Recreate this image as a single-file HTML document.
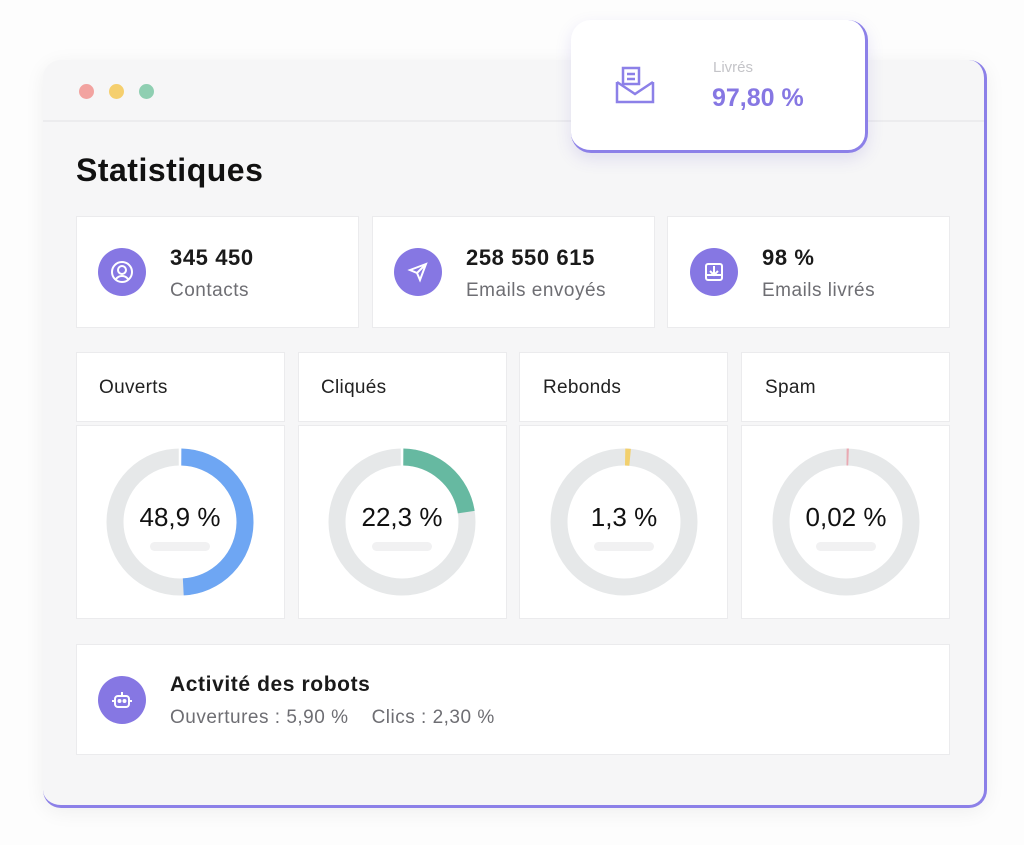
<!DOCTYPE html>
<html><head><meta charset="utf-8"><style>
body{margin:0;width:1024px;height:845px;background:#fdfdfd;position:relative;overflow:hidden;font-family:"Liberation Sans",sans-serif;}
.win{position:absolute;left:43px;top:60px;width:941px;height:745px;background:#f6f6f7;border-radius:18px;border-right:3px solid #8c80e8;border-bottom:3px solid #8c80e8;box-shadow:0 4px 20px rgba(0,0,0,.06);}
.dot{position:absolute;top:84px;width:15px;height:15px;border-radius:50%;}
.line{position:absolute;left:43px;top:120px;width:941px;height:2px;background:#ececee;}
.card{position:absolute;background:#fff;border:1px solid #ebebed;box-sizing:border-box;}
.ic{position:absolute;width:48px;height:48px;border-radius:50%;background:#8677e3;}
.num{position:absolute;font-size:22px;font-weight:bold;color:#1a1a1a;letter-spacing:0.6px;}
.lab{position:absolute;font-size:19px;color:#6e6e73;letter-spacing:0.5px;}
.dh{position:absolute;font-size:19px;color:#222;letter-spacing:0.3px;}
.dv{position:absolute;font-size:26px;color:#111;width:140px;text-align:center;}
.pill{position:absolute;width:60px;height:9px;border-radius:5px;background:#f1f1f2;}
</style></head><body>
<div class="win"></div>
<div class="line"></div>
<div class="dot" style="left:79px;background:#f2a3a0"></div>
<div class="dot" style="left:109px;background:#f5cf6e"></div>
<div class="dot" style="left:139px;background:#8fcfb2"></div>
<div style="position:absolute;left:571px;top:20px;width:294px;height:130px;background:#fff;border-radius:20px;border-right:3px solid #8c80e8;border-bottom:3px solid #8c80e8;box-shadow:0 6px 16px rgba(100,90,200,.15)"></div>
<svg style="position:absolute;left:615px;top:66px" width="42" height="40" viewBox="0 0 42 40" fill="none" stroke="#8c80e8" stroke-width="2.5"><rect x="8" y="2" width="16" height="16"/><path d="M2 16 L2 36 L38 36 L38 16 M2 16 L20 28 L38 16 M12 8h8M12 13h8"/></svg>
<div style="position:absolute;left:713px;top:59px;font-size:15px;color:#c4c4c8">Livrés</div>
<div style="position:absolute;left:712px;top:84px;font-size:25px;font-weight:bold;color:#8677e3">97,80 %</div>
<div style="position:absolute;left:76px;top:152px;font-size:32px;font-weight:bold;color:#111;letter-spacing:0.5px">Statistiques</div>

<div class="card" style="left:76px;top:216px;width:283px;height:112px"></div>
<div class="card" style="left:372px;top:216px;width:283px;height:112px"></div>
<div class="card" style="left:667px;top:216px;width:283px;height:112px"></div>
<div class="ic" style="left:98px;top:248px"></div>
<div class="ic" style="left:394px;top:248px"></div>
<div class="ic" style="left:690px;top:248px"></div>
<svg style="position:absolute;left:110px;top:260px" width="24" height="24" fill="none" stroke="#fff" stroke-width="2"><circle cx="12" cy="12" r="10"/><circle cx="12" cy="10" r="4"/><path d="M6 19c3-4 9-4 12 0"/></svg>
<svg style="position:absolute;left:406px;top:260px" width="24" height="24" fill="none" stroke="#fff" stroke-width="2"><path d="M20 4 L4 10 L11 13 L14 20 Z M11 13 L20 4"/></svg>
<svg style="position:absolute;left:702px;top:260px" width="24" height="24" fill="none" stroke="#fff" stroke-width="2"><rect x="4" y="4" width="16" height="16" rx="2"/><path d="M12 6v8M8 11l4 4 4-4M4 15h16"/></svg>
<div class="num" style="left:170px;top:245px">345 450</div>
<div class="lab" style="left:170px;top:280px">Contacts</div>
<div class="num" style="left:466px;top:245px">258 550 615</div>
<div class="lab" style="left:466px;top:280px">Emails envoyés</div>
<div class="num" style="left:762px;top:245px">98 %</div>
<div class="lab" style="left:762px;top:280px">Emails livrés</div>

<div class="card" style="left:76px;top:352px;width:209px;height:70px"></div>
<div class="card" style="left:298px;top:352px;width:209px;height:70px"></div>
<div class="card" style="left:519px;top:352px;width:209px;height:70px"></div>
<div class="card" style="left:741px;top:352px;width:209px;height:70px"></div>
<div class="card" style="left:76px;top:425px;width:209px;height:194px"></div>
<div class="card" style="left:298px;top:425px;width:209px;height:194px"></div>
<div class="card" style="left:519px;top:425px;width:209px;height:194px"></div>
<div class="card" style="left:741px;top:425px;width:209px;height:194px"></div>
<div class="dh" style="left:99px;top:377px">Ouverts</div>
<div class="dh" style="left:321px;top:377px">Cliqués</div>
<div class="dh" style="left:543px;top:377px">Rebonds</div>
<div class="dh" style="left:765px;top:377px">Spam</div>
<svg style="position:absolute;left:0;top:0" width="1024" height="845">
<g fill="none" stroke-width="17">
<circle cx="180" cy="522" r="65" stroke="#e6e8e9"/>
<circle cx="180" cy="522" r="65" stroke="#6ea6f3" stroke-dasharray="199.7 408.4" transform="rotate(-89 180 522)"/>
<circle cx="402" cy="522" r="65" stroke="#e6e8e9"/>
<circle cx="402" cy="522" r="65" stroke="#66b9a1" stroke-dasharray="91 408.4" transform="rotate(-89 402 522)"/>
<circle cx="624" cy="522" r="65" stroke="#e6e8e9"/>
<circle cx="624" cy="522" r="65" stroke="#f2d06e" stroke-dasharray="5 408.4" transform="rotate(-89 624 522)"/>
<circle cx="846" cy="522" r="65" stroke="#e6e8e9"/>
<circle cx="846" cy="522" r="65" stroke="#e9a9b2" stroke-dasharray="2 408.4" transform="rotate(-89.5 846 522)"/>
</g>
<g stroke="#fff" stroke-width="2.5"><line x1="180" y1="446" x2="180" y2="466"/><line x1="402" y1="446" x2="402" y2="466"/></g>
</svg>
<div class="dv" style="left:110px;top:502px">48,9 %</div>
<div class="dv" style="left:332px;top:502px">22,3 %</div>
<div class="dv" style="left:554px;top:502px">1,3 %</div>
<div class="dv" style="left:776px;top:502px">0,02 %</div>
<div class="pill" style="left:150px;top:542px"></div>
<div class="pill" style="left:372px;top:542px"></div>
<div class="pill" style="left:594px;top:542px"></div>
<div class="pill" style="left:816px;top:542px"></div>

<div class="card" style="left:76px;top:644px;width:874px;height:111px"></div>
<div class="ic" style="left:98px;top:676px"></div>
<svg style="position:absolute;left:110px;top:688px" width="24" height="24" fill="none" stroke="#fff" stroke-width="2"><rect x="5" y="8" width="14" height="11" rx="3"/><path d="M12 4v4M2 13h3M19 13h3"/><circle cx="9.5" cy="13" r="1" fill="#fff"/><circle cx="14.5" cy="13" r="1" fill="#fff"/></svg>
<div class="num" style="left:170px;top:673px;font-size:21px">Activité des robots</div>
<div class="lab" style="left:170px;top:707px">Ouvertures : 5,90 %&nbsp;&nbsp;&nbsp;&nbsp;Clics : 2,30 %</div>
</body></html>
